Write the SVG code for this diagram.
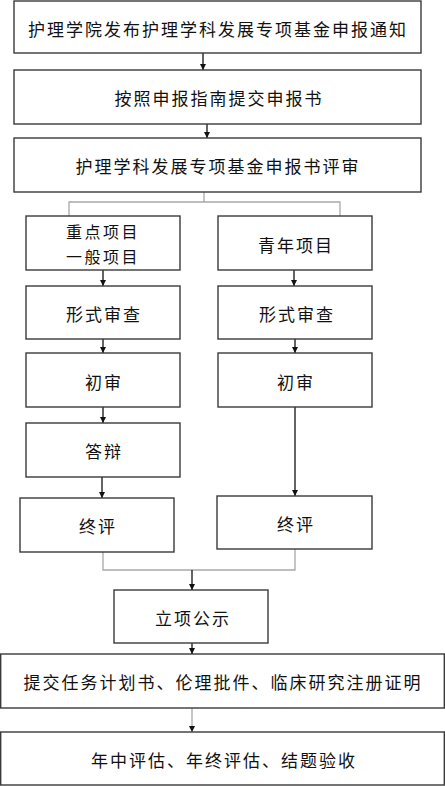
<svg xmlns="http://www.w3.org/2000/svg" width="445" height="786" viewBox="0 0 445 786">
<style>
.box{fill:#fff;stroke:#3a3a3a;stroke-width:1.4}
.t{font-family:"Noto Sans CJK SC","Liberation Sans",sans-serif;font-size:17px;letter-spacing:2px;fill:#111;text-anchor:middle;dominant-baseline:central}
.s{font-size:16px;letter-spacing:2.5px}
.a{stroke:#111;stroke-width:1.3;fill:none;marker-end:url(#ah)}
.g{stroke:#a8a8a8;stroke-width:1.3;fill:none}
.ga{stroke:#a8a8a8;stroke-width:1.3;fill:none;marker-end:url(#ah)}
</style>
<defs>
<marker id="ah" viewBox="0 0 6 6" refX="6" refY="3" markerWidth="6" markerHeight="6" markerUnits="userSpaceOnUse" orient="auto">
<path d="M0,0 L6,3 L0,6 Z" fill="#111"/>
</marker>
</defs>
<rect width="445" height="786" fill="#fff"/>
<g id="connectors">
<line class="a" x1="203" y1="53" x2="203" y2="70"/>
<line class="a" x1="207" y1="124" x2="207" y2="138"/>
<polyline class="g" points="204,192 204,202"/>
<polyline class="g" points="69,216 69,202 340,202 340,216"/>
<line class="a" x1="103" y1="270" x2="103" y2="286"/>
<line class="a" x1="294" y1="270" x2="294" y2="286"/>
<line class="a" x1="103" y1="339" x2="103" y2="353"/>
<line class="a" x1="295" y1="339" x2="295" y2="353"/>
<line class="a" x1="103" y1="407" x2="103" y2="423"/>
<line class="a" x1="295" y1="407" x2="295" y2="496"/>
<line class="a" x1="102" y1="477" x2="102" y2="498"/>
<polyline class="g" points="103,552 103,570 295,570 295,549"/>
<line class="a" x1="192" y1="570" x2="192" y2="590"/>
<line class="a" x1="192" y1="643" x2="192" y2="654"/>
<line class="ga" x1="192" y1="708" x2="192" y2="732"/>
</g>
<g id="n1"><rect class="box" x="14" y="1" width="407" height="52"/><text class="t" x="218" y="28">护理学院发布护理学科发展专项基金申报通知</text></g>
<g id="n2"><rect class="box" x="14" y="70" width="407" height="54"/><text class="t" x="219" y="97">按照申报指南提交申报书</text></g>
<g id="n3"><rect class="box" x="14" y="138" width="407" height="54"/><text class="t" x="218" y="165">护理学科发展专项基金申报书评审</text></g>
<g id="l1"><rect class="box" x="26" y="216" width="154" height="54"/><text class="t s" x="103" y="231">重点项目</text><text class="t s" x="103" y="255.5">一般项目</text></g>
<g id="r1"><rect class="box" x="218" y="216" width="154" height="54"/><text class="t" x="296" y="244">青年项目</text></g>
<g id="l2"><rect class="box" x="26" y="286" width="154" height="53"/><text class="t" x="104" y="313">形式审查</text></g>
<g id="r2"><rect class="box" x="218" y="286" width="154" height="53"/><text class="t" x="297" y="313">形式审查</text></g>
<g id="l3"><rect class="box" x="26" y="353" width="154" height="54"/><text class="t" x="104" y="381">初审</text></g>
<g id="r3"><rect class="box" x="218" y="353" width="154" height="54"/><text class="t" x="296" y="381">初审</text></g>
<g id="l4"><rect class="box" x="26" y="423" width="154" height="54"/><text class="t" x="104" y="450">答辩</text></g>
<g id="l5"><rect class="box" x="20" y="498" width="154" height="54"/><text class="t" x="98" y="525">终评</text></g>
<g id="r5"><rect class="box" x="217" y="496" width="155" height="53"/><text class="t" x="296" y="523">终评</text></g>
<g id="n4"><rect class="box" x="114" y="590" width="154" height="53"/><text class="t" x="193" y="617">立项公示</text></g>
<g id="n5"><rect class="box" x="0.7" y="654" width="443.6" height="54"/><text class="t" x="223" y="681">提交任务计划书、伦理批件、临床研究注册证明</text></g>
<g id="n6"><rect class="box" x="0.7" y="732" width="443.6" height="53"/><text class="t" x="224" y="759">年中评估、年终评估、结题验收</text></g>
</svg>
